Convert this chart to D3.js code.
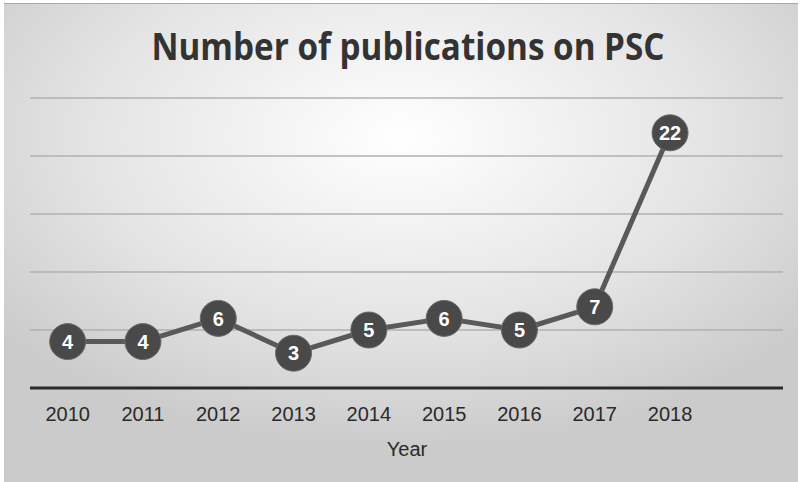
<!DOCTYPE html>
<html>
<head>
<meta charset="utf-8">
<script src="https://cdn.jsdelivr.net/npm/d3@7"></script>
<style>
  body { margin: 0; background: #fff; }
  svg { display: block; }
</style>
</head>
<body>
<script>
var years = ['2010', '2011', '2012', '2013', '2014', '2015', '2016', '2017', '2018'];
var counts = [4, 4, 6, 3, 5, 6, 5, 7, 22];
var yTicks = [0, 5, 10, 15, 20, 25];

var W = 801, H = 482;
var svg = d3.select('body').append('svg')
  .attr('width', W)
  .attr('height', H);

// background panel with radial shading
var defs = svg.append('defs');
var grad = defs.append('radialGradient')
  .attr('id', 'bg')
  .attr('cx', '50%').attr('cy', '28%')
  .attr('r', '65%')
  .attr('fx', '50%').attr('fy', '28%');
grad.append('stop').attr('offset', '0%').attr('stop-color', '#ffffff');
grad.append('stop').attr('offset', '60%').attr('stop-color', '#e4e4e4');
grad.append('stop').attr('offset', '100%').attr('stop-color', '#cbcbcb');

svg.append('rect')
  .attr('x', 4).attr('y', 3)
  .attr('width', 794).attr('height', 479)
  .attr('fill', 'url(#bg)');
svg.append('line')
  .attr('x1', 4).attr('x2', 798)
  .attr('y1', 3.5).attr('y2', 3.5)
  .attr('stroke', '#a8a8a8')
  .attr('stroke-width', 1);

var left = 30, right = 783, bandW = (right - left) / 10;

var x = d3.scaleBand()
  .domain(years)
  .range([left, left + bandW * years.length]);

var y = d3.scaleLinear()
  .domain([0, 25])
  .range([388, 98]);

// gridlines
svg.append('g').selectAll('line')
  .data(yTicks.filter(function(d) { return d > 0; }))
  .enter()
  .append('line')
  .attr('x1', left).attr('x2', right)
  .attr('y1', function(d) { return y(d); })
  .attr('y2', function(d) { return y(d); })
  .attr('stroke', '#b0b0b0')
  .attr('stroke-width', 1.5);

// baseline
svg.append('line')
  .attr('x1', left).attr('x2', right)
  .attr('y1', y(0)).attr('y2', y(0))
  .attr('stroke', '#2b2b2b')
  .attr('stroke-width', 3);

// x labels
var xAxis = d3.axisBottom(x).tickSize(0).tickPadding(0);
var gx = svg.append('g')
  .attr('transform', 'translate(0,' + 421 + ')')
  .call(xAxis);
gx.select('.domain').remove();
gx.selectAll('text')
  .attr('dy', 0)
  .attr('font-family', 'Liberation Sans, Arial, sans-serif')
  .attr('font-size', 20)
  .attr('fill', '#2a2a2a');

svg.append('text')
  .attr('x', 407).attr('y', 456)
  .attr('text-anchor', 'middle')
  .attr('font-family', 'Liberation Sans, Arial, sans-serif')
  .attr('font-size', 20)
  .attr('fill', '#2a2a2a')
  .text('Year');

// title
svg.append('text')
  .attr('x', 408).attr('y', 60)
  .attr('text-anchor', 'middle')
  .attr('font-family', 'Open Sans, sans-serif')
  .attr('font-weight', 'bold')
  .attr('font-size', 37)
  .attr('textLength', 513)
  .attr('lengthAdjust', 'spacingAndGlyphs')
  .attr('fill', '#333')
  .text('Number of publications on PSC');

var data = years.map(function(yr, i) { return { year: yr, v: counts[i] }; });

var line = d3.line()
  .x(function(d) { return x(d.year) + x.bandwidth() / 2; })
  .y(function(d) { return y(d.v); });

svg.append('path')
  .datum(data)
  .attr('d', line)
  .attr('fill', 'none')
  .attr('stroke', '#595959')
  .attr('stroke-width', 5)
  .attr('stroke-linejoin', 'round');

var pts = svg.append('g').selectAll('g')
  .data(data)
  .enter()
  .append('g')
  .attr('transform', function(d) {
    return 'translate(' + (x(d.year) + x.bandwidth() / 2) + ',' + y(d.v) + ')';
  });

pts.append('circle')
  .attr('r', 18)
  .attr('fill', '#494949')
  .attr('stroke', '#6a6a6a')
  .attr('stroke-width', 1);

pts.append('text')
  .attr('text-anchor', 'middle')
  .attr('dy', '0.36em')
  .attr('font-family', 'Liberation Sans, Arial, sans-serif')
  .attr('font-weight', 'bold')
  .attr('font-size', 20)
  .attr('fill', '#fff')
  .text(function(d) { return d.v; });
</script>
</body>
</html>
